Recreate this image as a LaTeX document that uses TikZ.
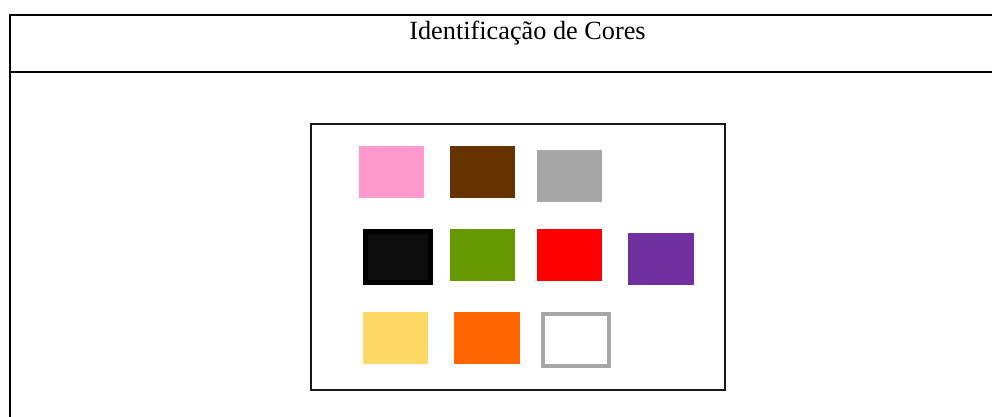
\documentclass[tikz,border=0pt]{standalone}
\usepackage{fontspec}
\setmainfont{Liberation Serif}
\usepackage{tikz}
\usetikzlibrary{positioning}

\definecolor{rosa}{HTML}{FF99CC}
\definecolor{marrom}{HTML}{663300}
\definecolor{cinza}{HTML}{A6A6A6}
\definecolor{preto}{HTML}{0D0D0D}
\definecolor{verde}{HTML}{669900}
\definecolor{vermelho}{HTML}{FF0000}
\definecolor{roxo}{HTML}{7030A0}
\definecolor{amarelo}{HTML}{FFD966}
\definecolor{laranja}{HTML}{FF6600}

\begin{document}
\begin{tikzpicture}[x=0.75pt,y=-0.75pt,
                    frame line/.style={line width=1.5pt,black},
                    swatch/.style={rectangle,inner sep=0pt,minimum width=48.75pt,minimum height=39pt},
                    wide swatch/.style={swatch,minimum width=49.5pt}]
  \useasboundingbox (0,0) rectangle (992,417);

  % table frame
  \draw[frame line] (10.3,417) -- (10.3,15) -- (992,15);
  \draw[frame line] (10.3,72) -- (992,72);
  \node[anchor=base,font=\fontsize{19.7pt}{24pt}\selectfont] (title) at (527.5,39.5) {Identificação de Cores};

  % panel
  \draw[line width=1.3pt,black!90] (311,124) rectangle (725,390);

  % first row
  \node[swatch,fill=rosa] (rosa) at (391.5,172) {};
  \node[swatch,fill=marrom] (marrom) at (482.5,172) {};
  \node[swatch,fill=cinza] (cinza) at (569.5,176) {};

  % second row
  \node[swatch,fill=preto,draw=black,line width=3.4pt,minimum width=49.1pt,minimum height=38.6pt] (preto) at (398,257) {};
  \node[swatch,fill=verde] (verde) at (482.5,255) {};
  \node[swatch,fill=vermelho] (vermelho) at (569.5,255) {};
  \node[wide swatch,fill=roxo] (roxo) at (661,259) {};

  % third row
  \node[swatch,fill=amarelo] (amarelo) at (395.5,338) {};
  \node[wide swatch,fill=laranja] (laranja) at (487,338) {};
  \node[swatch,fill=white,draw=cinza,line width=3pt,minimum width=49.5pt,minimum height=39pt] (branco) at (576,340) {};
\end{tikzpicture}
\end{document}
